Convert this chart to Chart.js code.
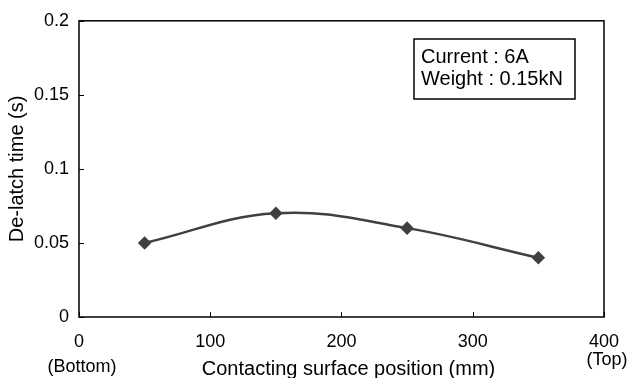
<!DOCTYPE html>
<html><head><meta charset="utf-8">
<script src="https://cdn.jsdelivr.net/npm/chart.js@4"></script>
<style>html,body{margin:0;padding:0;background:#fff}#w{width:633px;height:378px}</style>
</head><body><div id="w"><canvas id="c" width="633" height="378"></canvas></div>
<script>
const positions = [50, 150, 250, 350];
const delatchTimes = [0.05, 0.07, 0.06, 0.04];
const xTicks = [0, 100, 200, 300, 400];
const yTicks = [0, 0.05, 0.1, 0.15, 0.2];
const noteLines = ['Current : 6A', 'Weight : 0.15kN'];
const endLabels = {0: '(Bottom)', 400: '(Top)'};
const xTitle = 'Contacting surface position (mm)';
const yTitle = 'De-latch time (s)';
const FONT = '"Liberation Sans", Arial, sans-serif';

const decor = {
  id: 'decor',
  afterDraw(chart) {
    const ctx = chart.ctx, a = chart.chartArea;
    const xs = chart.scales.x, ys = chart.scales.y;
    ctx.save();
    ctx.strokeStyle = '#000';
    ctx.lineWidth = 1.5;
    ctx.strokeRect(a.left, a.top, a.right - a.left, a.bottom - a.top);
    ctx.lineWidth = 1;
    yTicks.forEach(v => {
      const y = Math.round(ys.getPixelForValue(v)) + 0.5;
      ctx.beginPath(); ctx.moveTo(a.left, y); ctx.lineTo(a.left + 5, y); ctx.stroke();
    });
    xTicks.forEach(v => {
      const x = Math.round(xs.getPixelForValue(v)) + 0.5;
      ctx.beginPath(); ctx.moveTo(x, a.bottom); ctx.lineTo(x, a.bottom - 5); ctx.stroke();
    });
    ctx.fillStyle = '#000';
    ctx.font = '18px ' + FONT;
    ctx.textAlign = 'center'; ctx.textBaseline = 'middle';
    ctx.fillText(endLabels[0], xs.getPixelForValue(0) + 3, 367);
    ctx.fillText(endLabels[400], xs.getPixelForValue(400) + 3, 360);
    // x axis title
    ctx.font = '20px ' + FONT;
    ctx.textBaseline = 'alphabetic';
    ctx.fillText(xTitle, (a.left + a.right) / 2 + 7, 375);
    // note box
    ctx.lineWidth = 1.5;
    ctx.strokeRect(414, 39, 161, 60);
    ctx.textAlign = 'left';
    ctx.fillText(noteLines[0], 421, 63);
    ctx.fillText(noteLines[1], 421, 85);
    ctx.restore();
  }
};

new Chart(document.getElementById('c'), {
  type: 'line',
  data: {
    datasets: [{
      data: positions.map((p, i) => ({x: p, y: delatchTimes[i]})),
      borderColor: '#404040',
      backgroundColor: '#404040',
      borderWidth: 2.5,
      pointStyle: 'rectRot',
      pointRadius: 5,
      pointHoverRadius: 5,
      tension: 0.4,
      fill: false
    }]
  },
  options: {
    responsive: false,
    animation: false,
    layout: {padding: {top: 20, right: 23, left: 0, bottom: 0}},
    plugins: {legend: {display: false}, tooltip: {enabled: false}},
    scales: {
      x: {
        type: 'linear', min: 0, max: 400,
        afterBuildTicks: s => { s.ticks = xTicks.map(v => ({value: v})); },
        afterFit: s => { s.height = 61; },
        grid: {display: false, drawTicks: false},
        border: {display: false},
        ticks: {color: '#000', font: {family: FONT, size: 18}, padding: 14, maxRotation: 0},
        title: {display: false}
      },
      y: {
        type: 'linear', min: 0, max: 0.2,
        afterBuildTicks: s => { s.ticks = yTicks.map(v => ({value: v})); },
        afterFit: s => { s.width = 79; },
        grid: {display: false, drawTicks: false},
        border: {display: false},
        ticks: {color: '#000', font: {family: FONT, size: 18}, padding: 10, callback: v => String(v)},
        title: {display: true, text: yTitle, color: '#000', font: {family: FONT, size: 20}, padding: {top: 5, bottom: 0}}
      }
    }
  },
  plugins: [decor]
});
</script></body></html>
